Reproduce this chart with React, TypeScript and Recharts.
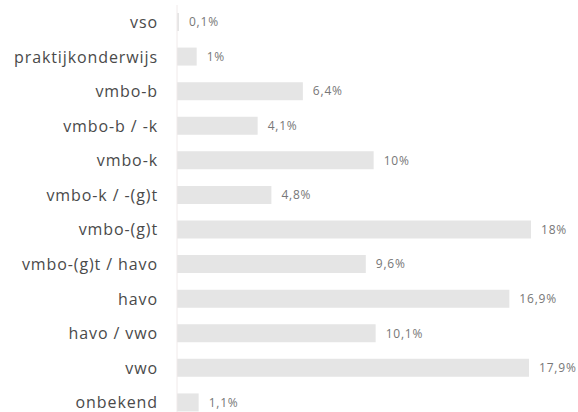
import { BarChart, Bar, XAxis, YAxis, LabelList } from 'recharts';

const categories = [
  'vso',
  'praktijkonderwijs',
  'vmbo-b',
  'vmbo-b / -k',
  'vmbo-k',
  'vmbo-k / -(g)t',
  'vmbo-(g)t',
  'vmbo-(g)t / havo',
  'havo',
  'havo / vwo',
  'vwo',
  'onbekend',
];

const shares = [0.1, 1, 6.4, 4.1, 10, 4.8, 18, 9.6, 16.9, 10.1, 17.9, 1.1];

const data = categories.map((name, i) => ({ name, value: shares[i] }));

const fmt = (v: number) => `${String(v).replace('.', ',')}%`;

export default function App() {
  return (
    <div
      style={{
        position: 'absolute',
        left: 0,
        top: 0,
        width: 578,
        height: 412,
        overflow: 'hidden',
        background: '#fff',
      }}
    >
      {/* the original is cut off just under the last bar */}
      <BarChart
        width={578}
        height={420}
        data={data}
        layout="vertical"
        margin={{ top: 5, right: 47, bottom: 0, left: 0 }}
        barSize={18}
      >
        <XAxis type="number" domain={[0, 18]} hide />
        <YAxis
          type="category"
          dataKey="name"
          width={177}
          tickLine={false}
          axisLine={{ stroke: '#f0eaea' }}
          tickMargin={13}
          tick={{ fontSize: 16, fill: '#4a4a4a', fontFamily: '"Open Sans", sans-serif', letterSpacing: 0.9 }}
        />
        <Bar dataKey="value" fill="#e5e5e5" isAnimationActive={false}>
          <LabelList
            dataKey="value"
            position="right"
            offset={10}
            formatter={(v: number) => fmt(v)}
            style={{ fontSize: 12, fill: '#777', fontFamily: '"Open Sans", sans-serif', letterSpacing: 0.8 }}
          />
        </Bar>
      </BarChart>
    </div>
  );
}
